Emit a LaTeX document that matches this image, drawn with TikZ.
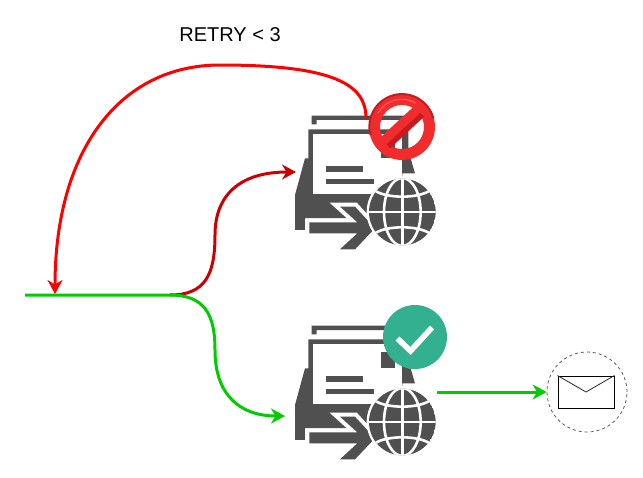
\documentclass[tikz,border=0pt]{standalone}
\usepackage{fontspec}
\setmainfont{Liberation Sans}
\usetikzlibrary{arrows.meta}
\definecolor{icongrey}{HTML}{505050}
\definecolor{okgreen}{HTML}{33B08F}
\definecolor{linegreen}{HTML}{00CC00}
\definecolor{linered}{HTML}{FF0000}
\definecolor{linedark}{HTML}{CC0000}
\definecolor{ringred}{HTML}{F02C2C}
\definecolor{ringdark}{HTML}{C81A1F}
\tikzset{
  flow/.style={line width=3pt, -{Stealth[length=14pt,width=15pt,inset=4.5pt]}},
  iconbox/.style={minimum width=142pt, minimum height=136pt, inner sep=0pt},
  gateway/.pic={
    \begin{scope}[x=0.3333pt, y=-0.3333pt]
      \fill[icongrey] (95,77) -- (372,77) -- (372,90) -- (110,90) -- (110,103) -- (95,103) -- cycle;
      \fill[icongrey] (45,315) -- (75,205) -- (85,205) -- (85,118) -- (385,118) -- (385,205) -- (392,205)
        -- (405,250) -- (367,250) -- (367,313) -- (280,313) -- (280,385) -- (75,385) -- (75,420) -- (45,420) -- cycle;
      \fill[white] (100,133) rectangle (367,313);
      \fill[icongrey] (303,155) rectangle (345,203);
      \fill[icongrey] (137,229) rectangle (249,245);
      \fill[icongrey] (137,267) rectangle (282,283);
      \draw[white, line width=8pt, line join=miter]
        (88,397) -- (232,397) -- (180,350) -- (225,350) -- (285,415) -- (225,478) -- (180,478) -- (232,430) -- (88,430) -- cycle;
      \fill[icongrey]
        (88,397) -- (232,397) -- (180,350) -- (225,350) -- (285,415) -- (225,478) -- (180,478) -- (232,430) -- (88,430) -- cycle;
      \fill[white] (367,366) circle (107);
      \begin{scope}
        \clip (367,366) circle (100);
        \fill[icongrey] (367,366) circle (100);
        \draw[white, line width=2.6pt] (367,260) -- (367,470);
        \draw[white, line width=2.6pt] (367,366) ellipse (55 and 102);
        \draw[white, line width=2.6pt] (260,366) -- (470,366);
        \draw[white, line width=2.6pt] (285,302) .. controls (320,326) and (414,326) .. (449,302);
        \draw[white, line width=2.6pt] (285,430) .. controls (320,406) and (414,406) .. (449,430);
      \end{scope}
    \end{scope}
  }
}
\begin{document}
\begin{tikzpicture}[x=1pt, y=-1pt]
  \useasboundingbox (0,0) rectangle (643,477);

  \coordinate (start) at (25,295);
  \coordinate (split) at (170,295);
  \coordinate (retry) at (55,294);
  \coordinate (failout) at (366,118);
  \coordinate (failin) at (296,172);
  \coordinate (okin) at (285,416);
  \coordinate (okout) at (437,392);

  \node[iconbox] (gwfail) at (366,182) {};
  \node[iconbox] (gwok) at (366,392) {};
  \pic at (280,90) {gateway};
  \pic at (280,300) {gateway};

  \node (retrylabel) at (230,35) {\fontsize{20}{24}\selectfont RETRY < 3};

  \draw[flow, linered] (failout) .. controls (366,85) and (335,65) .. (220,65)
    .. controls (120,65) and (55,150) .. (retry);
  \draw[flow, linedark] (split) .. controls (205,295) and (215,275) .. (215,235)
    .. controls (215,195) and (240,172) .. (failin);
  \draw[flow, linegreen] (start) -- (split) .. controls (205,295) and (215,315) .. (215,350)
    .. controls (215,395) and (240,416) .. (okin);

  \node[circle, minimum size=66pt, inner sep=0pt] (nosign) at (402,127) {};
  \fill[ringred, even odd rule] (nosign) circle (33) (nosign) circle (22);
  \draw[ringdark, line width=2pt] (nosign) ++(-31.5,8) arc (165:345:32.5);
  \draw[ringred!75!white, line width=1pt] (nosign) ++(-24,-14) arc (210:300:27.5);
  \fill[ringdark, rotate around={43:(nosign)}] (379,127) rectangle (425,134.5);
  \fill[ringred, rotate around={43:(nosign)}] (379,120) rectangle (425,129);

  \node[circle, fill=okgreen, minimum size=64pt, inner sep=0pt] (okbadge) at (415,337) {};
  \draw[white, line width=5.6pt] (397.5,338.5) -- (410.5,351) -- (432,327.5);

  \node[circle, draw=black!65, dashed, line width=0.8pt, minimum size=80pt, inner sep=0pt] (mailbox) at (587,392) {};
  \node[rectangle, draw=black, line width=1pt, minimum width=56pt, minimum height=32pt, inner sep=0pt] (mailenv) at (586,392) {};
  \draw[black!85, line width=0.8pt] (mailenv.north west) -- (mailenv.center) -- (mailenv.north east);

  \draw[flow, linegreen] (okout) -- (mailbox.west);
\end{tikzpicture}
\end{document}
